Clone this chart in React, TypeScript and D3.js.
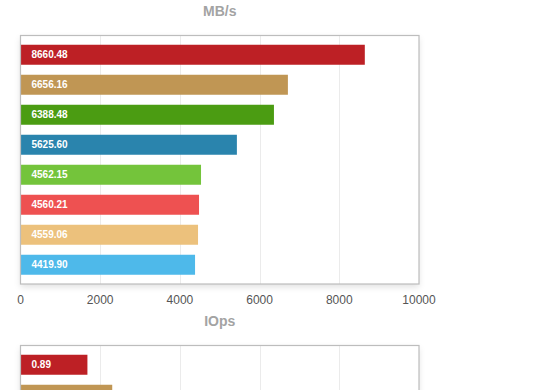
import React from "react";
import * as d3 from "d3";

const colors = ["#bd2025", "#c09654", "#4b9c12", "#2a84ad", "#74c43b", "#ee5151", "#ecc17c", "#4eb9ea"];
const mbLabels = ["8660.48", "6656.16", "6388.48", "5625.60", "4562.15", "4560.21", "4559.06", "4419.90"];
const mbValues = [8640, 6710, 6360, 5430, 4530, 4480, 4455, 4380];
const mbTicks = [0, 2000, 4000, 6000, 8000, 10000];
const iopsLabels = ["0.89"];
const iopsValues = [0.89, 1.22];

const FONT = "Helvetica, Arial, 'Liberation Sans', sans-serif";

type PanelProps = {
  title: string;
  titleY: number;
  top: number;
  bottom: number;
  values: number[];
  labels: string[];
  max: number;
  ticks: number[] | null;
  id: string;
};

function Panel({ title, titleY, top, bottom, values, labels, max, ticks, id }: PanelProps) {
  const left = 20.5;
  const right = 419;
  const x = d3.scaleLinear().domain([0, max]).range([left, right]);
  const step = 30;
  const y = d3
    .scaleBand<number>()
    .domain(d3.range(8))
    .range([top, top + step * (8 - 1 / 3 + 2 * 0.3083)])
    .paddingInner(1 / 3)
    .paddingOuter(0.3083);
  const gridVals = d3.range(1, 5).map((i) => (max * i) / 5);
  return (
    <g>
      <text x={(left + right) / 2} y={titleY} textAnchor="middle" fontFamily={FONT} fontSize={14} fontWeight="bold" fill="#a3a3a3">
        {title}
      </text>
      <rect x={left} y={top} width={right - left} height={bottom - top} fill="#fff" filter={`url(#${id})`} />
      {gridVals.map((g, i) => (
        <line key={i} x1={Math.round(x(g)) + 0.5} x2={Math.round(x(g)) + 0.5} y1={top} y2={bottom} stroke="#ebebeb" strokeWidth={1} />
      ))}
      {values.map((v, i) => (
        <g key={i}>
          <rect x={x(0) + 0.5} y={y(i)!} width={x(v) - x(0) - 0.5} height={y.bandwidth()} fill={colors[i]} />
          {labels[i] ? (
            <text x={31.5} y={y(i)! + y.bandwidth() / 2 + 3.6} fontFamily={FONT} fontSize={10} fontWeight="bold" fill="#fff">
              {labels[i]}
            </text>
          ) : null}
        </g>
      ))}
      <rect x={left} y={top} width={right - left} height={bottom - top} fill="none" stroke="#bdbdbd" strokeWidth={1.2} />
      {ticks &&
        ticks.map((t, i) => (
          <text key={i} x={x(t)} y={bottom + 20} textAnchor="middle" fontFamily={FONT} fontSize={12} fill="#555">
            {t}
          </text>
        ))}
    </g>
  );
}

export default function App() {
  return (
    <svg width={560} height={390} style={{ position: "absolute", left: 0, top: 0, background: "#fff" }}>
      <defs>
        <filter id="sh1" x="-10%" y="-10%" width="120%" height="130%">
          <feDropShadow dx="0" dy="3" stdDeviation="3" floodColor="#000" floodOpacity="0.12" />
        </filter>
        <filter id="sh2" x="-10%" y="-10%" width="120%" height="130%">
          <feDropShadow dx="0" dy="3" stdDeviation="3" floodColor="#000" floodOpacity="0.12" />
        </filter>
      </defs>
      <Panel title="MB/s" titleY={16} top={35.5} bottom={284} values={mbValues} labels={mbLabels} max={10000} ticks={mbTicks} id="sh1" />
      <Panel title="IOps" titleY={325.5} top={345.5} bottom={594} values={iopsValues} labels={iopsLabels} max={5.3} ticks={null} id="sh2" />
    </svg>
  );
}
